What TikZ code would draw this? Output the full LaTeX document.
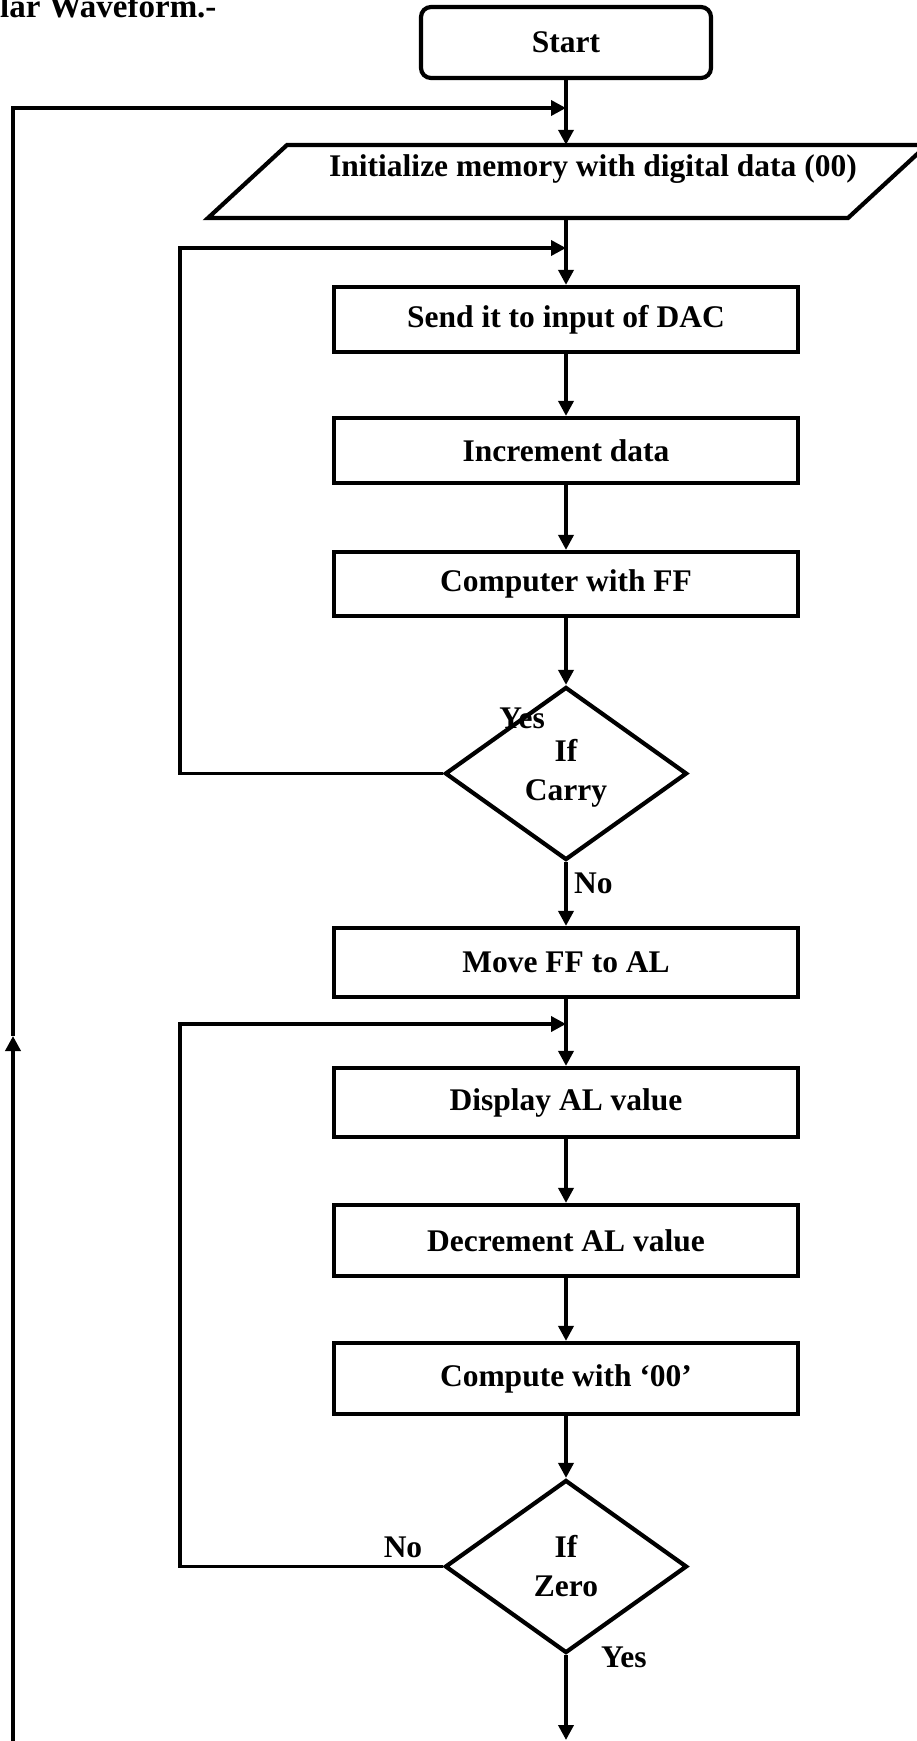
\documentclass[tikz,border=0pt]{standalone}
\usepackage{fontspec}
\setmainfont{Liberation Serif}
\usetikzlibrary{arrows.meta,shapes.geometric}
\begin{document}
\begin{tikzpicture}[x=1pt,y=-1pt,
  every node/.style={font=\bfseries\fontsize{31.5}{39}\selectfont},
  proc/.style={draw, line width=4.2pt, minimum width=464pt, inner sep=0pt},
  dec/.style={draw, diamond, line width=4.2pt, minimum width=242pt, minimum height=173pt, inner sep=0pt, align=center},
  conn/.style={line width=3.6pt},
  arr/.style={conn, -{Triangle[length=15pt,width=15pt]}},
  lbl/.style={inner sep=0pt}
]
\useasboundingbox (0,0) rectangle (917,1741);

% title (cut at the top, as in the reference)
\node[anchor=base west, inner sep=0pt, font=\bfseries\fontsize{33}{40}\selectfont] (title) at (0,17) {lar Waveform.-};

% shapes
\node[draw, rounded corners=10pt, line width=4.2pt, minimum width=290pt, minimum height=71pt, inner sep=0pt] (start) at (566,42.5) {Start};

\draw[line width=4.2pt] (208,218) -- (848,218) -- (927,145) -- (287,145) -- cycle;
\node[minimum width=560pt, minimum height=73pt, inner sep=0pt] (init) at (566,181.5) {};
\node[anchor=base, inner sep=0pt] (inittxt) at (593,176) {Initialize memory with digital data (00)};

\node[proc, minimum height=65pt] (send) at (566,319.5) {Send it to input of DAC};
\node[proc, minimum height=65pt] (incr) at (566,450.5) {Increment data};
\node[proc, minimum height=64pt] (comp) at (566,584) {Computer with FF};
\node[dec] (carry) at (566,773.5) {If\\Carry};
\node[proc, minimum height=69pt] (move) at (566,962.5) {Move FF to AL};
\node[proc, minimum height=69pt] (disp) at (566,1102.5) {Display AL value};
\node[proc, minimum height=71pt] (decr) at (566,1240.5) {Decrement AL value};
\node[proc, minimum height=71pt] (cmp) at (566,1378.5) {Compute with ‘00’};
\node[dec] (zero) at (566,1566.5) {If\\Zero};

% helper coordinates
\coordinate (j1) at (566,108);
\coordinate (j2) at (566,248);
\coordinate (j3) at (566,1024);
\coordinate (l2) at (180,248);
\coordinate (l3) at (180,1024);
\coordinate (upa) at (13,1036);
\coordinate (bl) at (13,1745);
\coordinate (endc) at (566,1740);

% main flow
\draw[arr] (start.south) -- (init.north);
\draw[arr] (init.south) -- (send.north);
\draw[arr] (send) -- (incr);
\draw[arr] (incr) -- (comp);
\draw[arr] (comp) -- (carry);
\draw[arr] (carry) -- (move);
\draw[arr] (move) -- (disp);
\draw[arr] (disp) -- (decr);
\draw[arr] (decr) -- (cmp);
\draw[arr] (cmp) -- (zero);
\draw[arr] (zero) -- (endc);

% loops
\draw[arr] (bl) -- (upa);
\draw[arr] (upa) |- (j1);
\draw[arr] (carry.west) -| (l2) -- (j2);
\draw[arr] (zero.west) -| (l3) -- (j3);

% labels
\node[lbl] (yes1) at (522,718) {Yes};
\node[lbl, anchor=west] (no1) at (574,883) {No};
\node[lbl] (no2) at (403,1547) {No};
\node[lbl, anchor=west] (yes2) at (601,1657) {Yes};
\end{tikzpicture}
\end{document}
